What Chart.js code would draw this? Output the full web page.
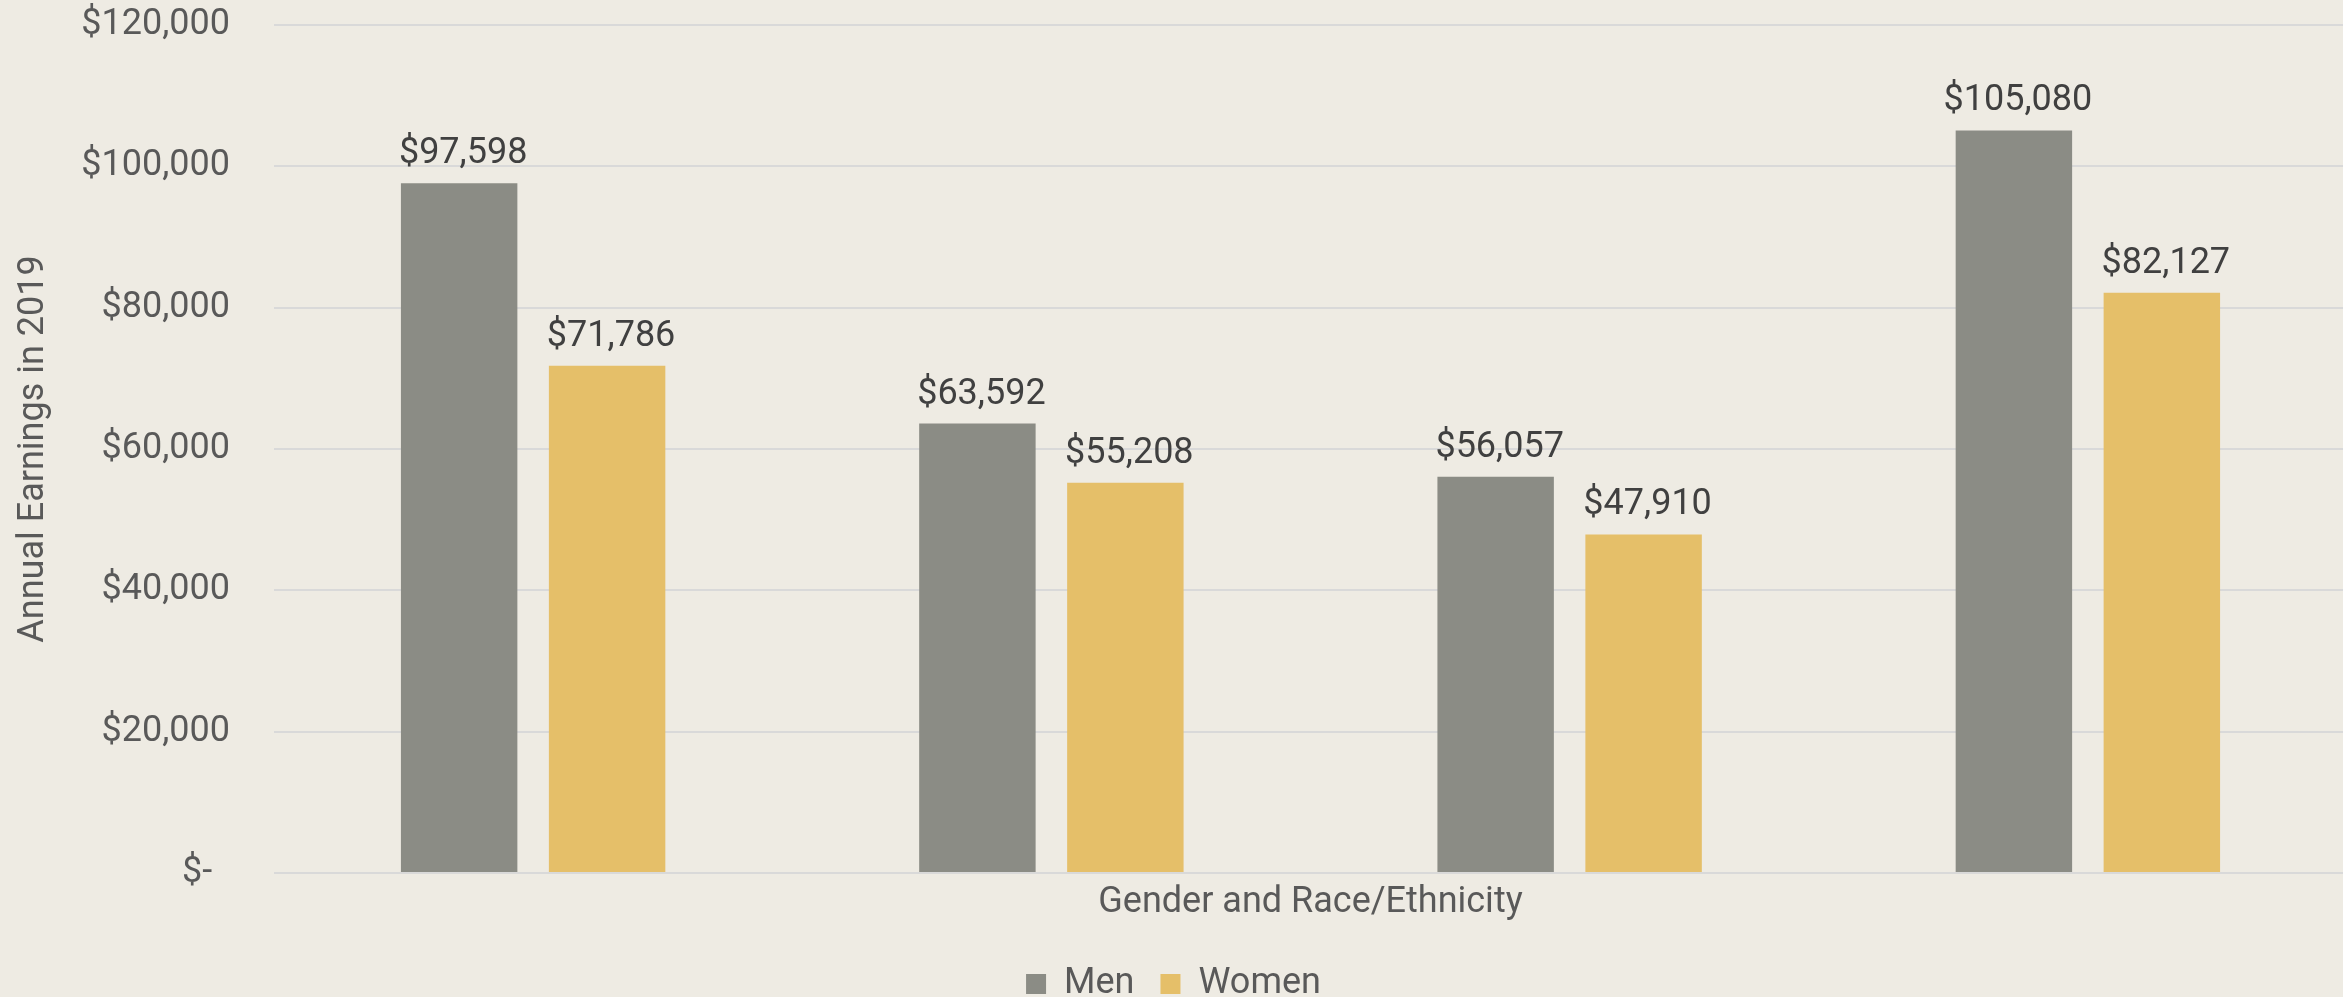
<!DOCTYPE html>
<html>
<head>
<meta charset="utf-8">
<script src="https://cdn.jsdelivr.net/npm/chart.js@4"></script>
<style>
  html, body { margin: 0; padding: 0; background: #EEEBE3; overflow: hidden; }
  #wrap { width: 2343px; height: 997px; overflow: hidden; }
</style>
</head>
<body>
<div id="wrap"><canvas id="myChart" width="2347" height="997"></canvas></div>
<script>
const categories = ['', '', '', ''];
const men = [97598, 63592, 56057, 105080];
const women = [71786, 55208, 47910, 82127];
const yTicks = [0, 20000, 40000, 60000, 80000, 100000, 120000];

const FONT = 'Roboto, "Liberation Sans", sans-serif';
const SIZE = 36;

function money(v){
    if (v == 0) return '$-  ';
    return '$' + v.toLocaleString('en-US');
}

// draws the value above each bar
const valueLabels = {
    id: 'valueLabels',
    afterDatasetsDraw(chart){
        const ctx = chart.ctx;
        ctx.save();
        ctx.font = SIZE + 'px ' + FONT;
        ctx.fillStyle = '#404040';
        ctx.textAlign = 'center';
        ctx.textBaseline = 'alphabetic';
        chart.data.datasets.forEach((ds, i) => {
            chart.getDatasetMeta(i).data.forEach((bar, j) => {
                ctx.fillText(money(ds.data[j]), bar.x + 4, bar.y - 20);
            });
        });
        ctx.restore();
    }
};

const ctx = document.getElementById('myChart');

new Chart(ctx, {
    type: 'bar',
    data: {
        labels: categories,
        datasets: [{
            label: 'Men',
            data: men,
            backgroundColor: '#8B8C85',
            borderWidth: 0
        }, {
            label: 'Women',
            data: women,
            backgroundColor: '#E5BF69',
            borderWidth: 0
        }]
    },
    options: {
        responsive: false,
        animation: false,
        categoryPercentage: 0.571,
        barPercentage: 0.787,
        layout: {
            padding: { top: 25, right: 0, left: 0, bottom: -15 }
        },
        scales: {
            y: {
                min: 0,
                max: 120000,
                afterBuildTicks(scale){
                    scale.ticks = yTicks.map(v => ({ value: v }));
                },
                afterFit(scale){
                    scale.width = 274;
                },
                grid: {
                    color: '#D9D9D9',
                    lineWidth: 2,
                    drawTicks: true,
                    tickLength: 44,
                    tickColor: 'rgba(0,0,0,0)'
                },
                border: { display: false },
                ticks: {
                    padding: 0,
                    color: '#595959',
                    font: { size: SIZE, family: FONT },
                    callback: (v) => money(v)
                },
                title: {
                    display: true,
                    text: 'Annual Earnings in 2019',
                    color: '#595959',
                    font: { size: SIZE, family: FONT },
                    padding: { top: 12, bottom: 0 }
                }
            },
            x: {
                grid: { display: false, drawTicks: false },
                border: { display: false },
                ticks: { display: false },
                title: {
                    display: true,
                    text: 'Gender and Race/Ethnicity',
                    color: '#595959',
                    font: { size: SIZE, family: FONT },
                    padding: { top: 8, bottom: 15.8 }
                }
            }
        },
        plugins: {
            legend: {
                position: 'bottom',
                labels: {
                    boxWidth: 20,
                    boxHeight: 20,
                    padding: 26,
                    color: '#595959',
                    font: { size: SIZE, family: FONT }
                }
            },
            tooltip: { enabled: false }
        }
    },
    plugins: [valueLabels]
});
</script>
</body>
</html>
